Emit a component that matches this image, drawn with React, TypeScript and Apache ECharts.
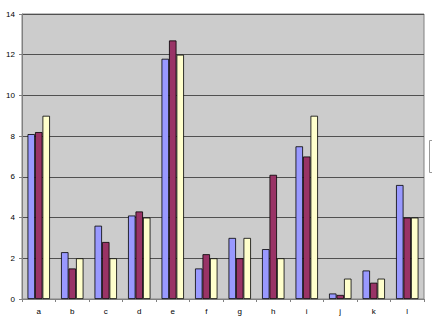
import React, { useEffect, useRef } from "react";
import * as echarts from "echarts";

const categories = ["a", "b", "c", "d", "e", "f", "g", "h", "i", "j", "k", "l"];
const series1 = [8.1, 2.3, 3.6, 4.1, 11.8, 1.5, 3, 2.45, 7.5, 0.27, 1.4, 5.6];
const series2 = [8.2, 1.5, 2.8, 4.3, 12.7, 2.2, 2, 6.1, 7, 0.2, 0.8, 4];
const series3 = [9, 2, 2, 4, 12, 2, 3, 2, 9, 1, 1, 4];
const yTicks = { min: 0, max: 14, interval: 2 };

export default function App() {
  const ref = useRef<HTMLDivElement>(null);
  useEffect(() => {
    if (!ref.current) return;
    const chart = echarts.init(ref.current, null, { renderer: "svg" });
    const barStyle = (color: string) => ({
      color,
      borderColor: "#000",
      borderWidth: 0.8,
    });
    chart.setOption({
      animation: false,
      backgroundColor: "#fff",
      grid: {
        left: 22,
        right: 8,
        top: 14,
        bottom: 19,
        show: true,
        backgroundColor: "#CCCCCC",
        borderColor: "#808080",
        borderWidth: 1,
      },
      xAxis: {
        type: "category",
        data: categories,
        axisLine: { lineStyle: { color: "#808080", width: 1 } },
        axisTick: { show: true, length: 3, lineStyle: { color: "#808080" } },
        axisLabel: {
          color: "#000",
          fontSize: 8,
          fontFamily: "Liberation Sans, Arial, sans-serif",
          margin: 8,
        },
      },
      yAxis: {
        type: "value",
        min: yTicks.min,
        max: yTicks.max,
        interval: yTicks.interval,
        axisLine: { show: true, lineStyle: { color: "#808080", width: 1 } },
        axisTick: { show: true, length: 3, lineStyle: { color: "#808080" } },
        splitLine: { lineStyle: { color: "#505050", width: 1 } },
        axisLabel: {
          color: "#000",
          fontSize: 8,
          fontFamily: "Liberation Sans, Arial, sans-serif",
          margin: 7,
        },
      },
      series: [
        { type: "bar", data: series1, itemStyle: barStyle("#9999FF"), barGap: "0%", barCategoryGap: "33%" },
        { type: "bar", data: series2, itemStyle: barStyle("#993366"), barGap: "0%", barCategoryGap: "33%" },
        { type: "bar", data: series3, itemStyle: barStyle("#FFFFCC"), barGap: "0%", barCategoryGap: "33%" },
      ],
      graphic: [
        {
          type: "rect",
          shape: { x: 429.5, y: 140.5, width: 20, height: 32 },
          style: { fill: "#fff", stroke: "#999", lineWidth: 1 },
        },
      ],
    });
    return () => chart.dispose();
  }, []);
  return <div ref={ref} style={{ width: 432, height: 318, position: "absolute", left: 0, top: 0 }} />;
}
